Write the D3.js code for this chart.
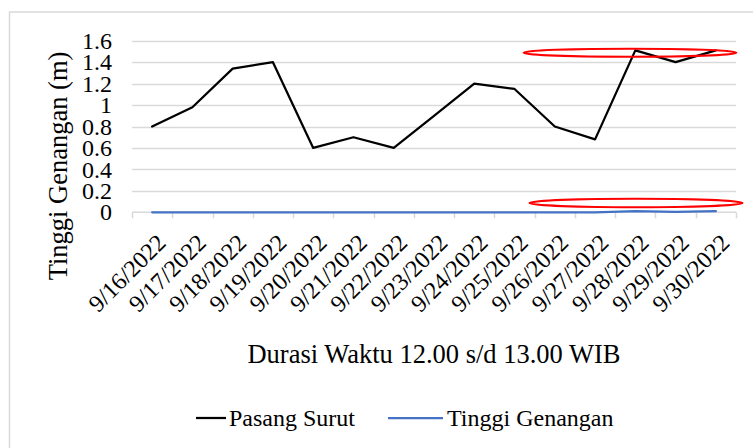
<!DOCTYPE html>
<html><head><meta charset="utf-8">
<script src="https://cdn.jsdelivr.net/npm/d3@7"></script>
<style>
html,body{margin:0;padding:0;background:#fff;}
svg text{font-family:"Liberation Serif","Times New Roman",serif;fill:#000;}
</style></head>
<body>
<svg id="c" width="753" height="448"></svg>
<script>
const categories = ["9/16/2022","9/17/2022","9/18/2022","9/19/2022","9/20/2022","9/21/2022","9/22/2022","9/23/2022","9/24/2022","9/25/2022","9/26/2022","9/27/2022","9/28/2022","9/29/2022","9/30/2022"];
const pasangSurut = [0.80,0.98,1.34,1.40,0.60,0.70,0.60,0.90,1.20,1.15,0.80,0.68,1.51,1.40,1.51];
const tinggiGenangan = [0,0,0,0,0,0,0,0,0,0,0,0,0.01,0.005,0.01];
const yTicks = [0,0.2,0.4,0.6,0.8,1,1.2,1.4,1.6];
const seriesNames = ["Pasang Surut","Tinggi Genangan"];
const colors = ["#000000","#4472C4"];
const FONT = "'Liberation Serif','Times New Roman',serif";

const svg = d3.select("#c");
const L = 132, R = 736, T = 40.7, B = 212.3;
const x = d3.scaleBand().domain(categories).range([L,R]);
const y = d3.scaleLinear().domain([0,1.6]).range([B,T]);

// chart border
svg.append("rect").attr("x",9.5).attr("y",12).attr("width",760).attr("height",460)
  .attr("fill","none").attr("stroke","#d9d9d9").attr("stroke-width",1.5);

// gridlines
svg.append("g").selectAll("line").data(yTicks.slice(1)).join("line")
  .attr("x1",L).attr("x2",R).attr("y1",d=>Math.round(y(d))+0.5).attr("y2",d=>Math.round(y(d))+0.5)
  .attr("stroke","#d9d9d9").attr("stroke-width",1.5);

// y labels
const yAxis = d3.axisLeft(y).tickValues(yTicks).tickSize(0).tickPadding(20).tickFormat(d=>String(+d.toFixed(1)));
const gy = svg.append("g").attr("transform",`translate(${L},0)`).call(yAxis);
gy.attr("font-family",FONT).attr("font-size",null);
gy.select(".domain").remove();
gy.selectAll("text").style("font-family",FONT).style("font-size","24px").attr("fill","#000");

// x axis
const bounds = categories.map(c=>x(c)).concat([R]);
const gx = svg.append("g");
gx.append("line").attr("x1",L).attr("x2",R).attr("y1",B).attr("y2",B).attr("stroke","#d9d9d9").attr("stroke-width",1.5);
gx.selectAll("line.t").data(bounds).join("line").attr("class","t")
  .attr("x1",d=>Math.round(d)+0.5).attr("x2",d=>Math.round(d)+0.5).attr("y1",B).attr("y2",B+6)
  .attr("stroke","#d9d9d9").attr("stroke-width",1.5);
gx.selectAll("text").data(categories).join("text")
  .attr("transform",d=>`translate(${x(d)+x.bandwidth()/2+15},${B+32}) rotate(-45)`)
  .attr("text-anchor","end").style("font-family",FONT).style("font-size","24px").text(d=>d);

// lines
const line = d3.line().x((d,i)=>x(categories[i])+x.bandwidth()/2).y(d=>y(d));
[pasangSurut,tinggiGenangan].forEach((s,k)=>{
  svg.append("path").datum(s).attr("d",line).attr("fill","none")
    .attr("stroke",colors[k]).attr("stroke-width",2.25).attr("stroke-linejoin","round").attr("stroke-linecap","round");
});

// annotation ellipses
svg.append("ellipse").attr("cx",630).attr("cy",52.7).attr("rx",106.5).attr("ry",4)
  .attr("fill","none").attr("stroke","#ff0000").attr("stroke-width",2);
svg.append("ellipse").attr("cx",636).attr("cy",203).attr("rx",106.5).attr("ry",4.2)
  .attr("fill","none").attr("stroke","#ff0000").attr("stroke-width",2);

// axis titles
svg.append("text").attr("transform","translate(58,166) rotate(-90)").attr("text-anchor","middle")
  .attr("dy","0.35em").style("font-family",FONT).style("font-size","26.5px").text("Tinggi Genangan (m)");
svg.append("text").attr("x",434).attr("y",363).attr("text-anchor","middle")
  .style("font-family",FONT).style("font-size","26.5px").text("Durasi Waktu 12.00 s/d 13.00 WIB");

// legend
const lg = svg.append("g");
const leg = [{x1:196,x2:226,tx:229},{x1:388,x2:443,tx:447}];
seriesNames.forEach((n,k)=>{
  lg.append("line").attr("x1",leg[k].x1).attr("x2",leg[k].x2).attr("y1",418).attr("y2",418)
    .attr("stroke",colors[k]).attr("stroke-width",2.25);
  lg.append("text").attr("x",leg[k].tx).attr("y",418).attr("dy","0.35em")
    .style("font-family",FONT).style("font-size","24px").text(n);
});
</script>
</body></html>
